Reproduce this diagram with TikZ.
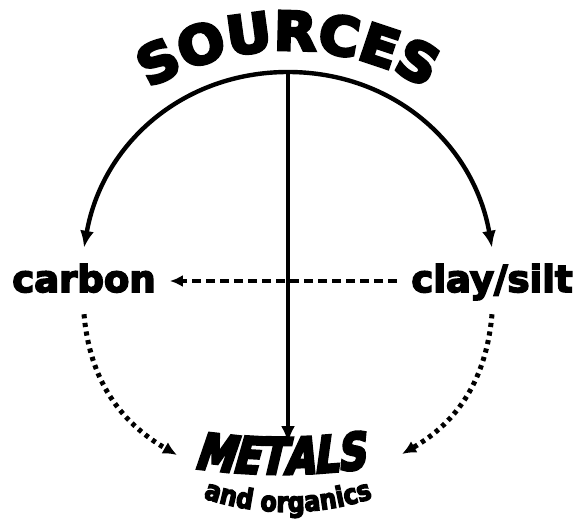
\documentclass[tikz,border=0pt]{standalone}
\usepackage{fontspec}
\usetikzlibrary{arrows.meta,decorations.text}

\newfontfamily\heavyfam[FakeBold=4.5]{DejaVu Sans Bold}
\newfontfamily\widefam[FakeBold=6,FakeStretch=1.04]{DejaVu Sans Bold}
\newfontfamily\slantfam[FakeBold=6,FakeStretch=0.77,FakeSlant=0.22]{DejaVu Sans Bold}
\newfontfamily\narrowfam[FakeBold=4.5,FakeStretch=0.85]{DejaVu Sans Bold}
\newcommand\sourcesstyle{\widefam\fontsize{53pt}{53pt}\selectfont}
\newcommand\metalsstyle{\slantfam\fontsize{50pt}{50pt}\selectfont}
\newcommand\organicsstyle{\narrowfam\fontsize{28pt}{28pt}\selectfont}

\tikzset{
  link/.style={line width=4.4pt, -{Latex[length=17pt,width=14pt]}},
  dashlink/.style={line width=3.6pt, dash pattern=on 9pt off 5pt, -{Latex[length=13pt,width=12pt]}},
  dotlink/.style={line width=5pt, dash pattern=on 4.2pt off 4.5pt, -{Latex[length=14pt,width=13pt]}},
  label/.style={font=\heavyfam\fontsize{37pt}{37pt}\selectfont, text height=30pt, text depth=8pt, inner sep=14pt, anchor=base}
}

\begin{document}
\begin{tikzpicture}[x=1pt,y=1pt]
\useasboundingbox (0,0) rectangle (583,-519);

\node[label] (carbon) at (84,-292) {carbon};
\node[label] (clay) at (492,-292) {clay/silt};
\coordinate (top) at (288,-72);
\coordinate (metals) at (288,-443);
\coordinate (metalsW) at (177,-455);
\coordinate (metalsE) at (402,-454);

% curved titles
\path[decorate, decoration={text along path, text align=center, text={|\sourcesstyle|SOURCES}}]
  ([shift={(122:270)}]288,-320) arc[start angle=122, end angle=58, radius=270];
\path[decorate, decoration={text along path, text align=center, text={|\metalsstyle|METALS}}]
  ([shift={(262:600)}]280,126) arc[start angle=262, end angle=278, radius=600];
\path[decorate, decoration={text along path, text align=center, text={|\organicsstyle|and organics}}]
  ([shift={(250:265)}]288,-247) arc[start angle=250, end angle=290, radius=265];

% connectors
\draw[link] (top) to[out=180,in=80] (carbon.north);
\draw[link] (top) to[out=0,in=100] (clay.north);
\draw[dashlink] (clay.west) -- (carbon.east);
\draw[link] (top) -- (metals);
\draw[dotlink] (carbon.south) to[out=-85,in=150] (metalsW);
\draw[dotlink] (clay.south) to[out=-95,in=30] (metalsE);
\end{tikzpicture}
\end{document}
